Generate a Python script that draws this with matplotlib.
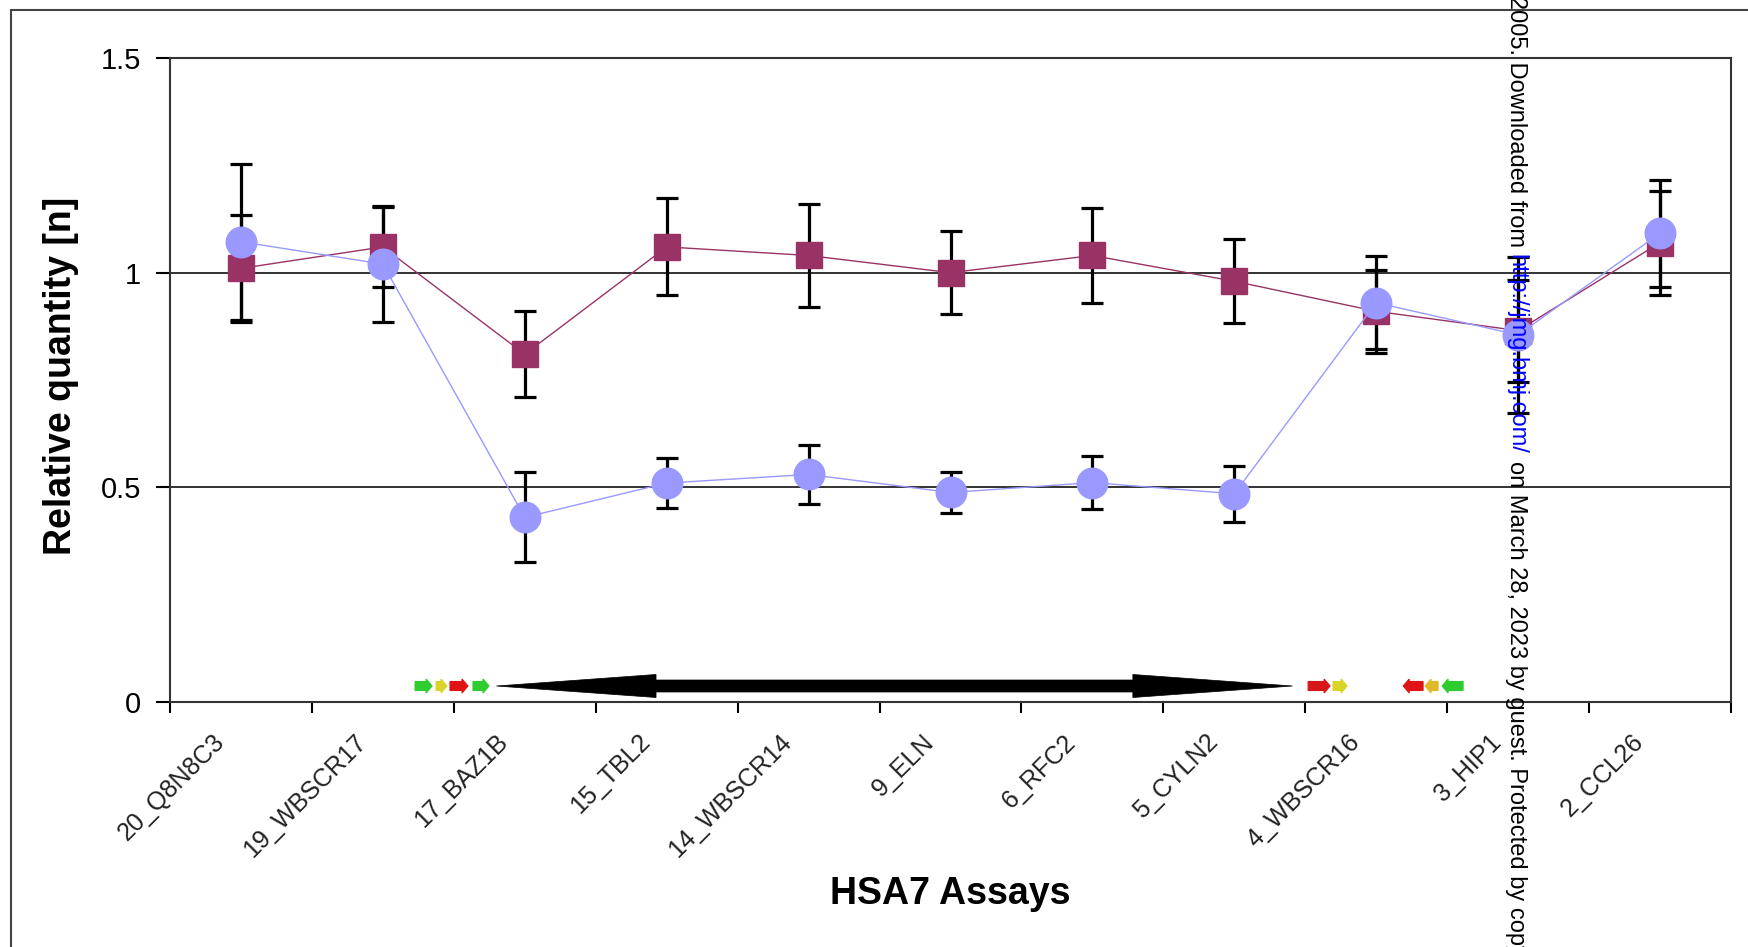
import matplotlib
matplotlib.use('Agg')
import matplotlib.pyplot as plt
import numpy as np
from matplotlib.patches import Polygon, Rectangle
from matplotlib.transforms import ScaledTranslation

plt.rcParams['font.family'] = ['Liberation Sans', 'DejaVu Sans']

# data
assays = ['20_Q8N8C3', '19_WBSCR17', '17_BAZ1B', '15_TBL2', '14_WBSCR14', '9_ELN',
          '6_RFC2', '5_CYLN2', '4_WBSCR16', '3_HIP1', '2_CCL26']
# control (maroon squares)
ctrl = [1.01, 1.06, 0.81, 1.06, 1.04, 1.00, 1.04, 0.98, 0.91, 0.865, 1.07]
ctrl_err = [0.125, 0.093, 0.10, 0.113, 0.12, 0.096, 0.11, 0.098, 0.096, 0.119, 0.121]
# patient (blue circles)
pat = [1.072, 1.02, 0.43, 0.51, 0.53, 0.488, 0.511, 0.485, 0.93, 0.855, 1.092]
pat_err = [0.182, 0.136, 0.105, 0.058, 0.068, 0.048, 0.062, 0.065, 0.108, 0.182, 0.125]

# deleted region (double arrow) and flanking genes, in category units
del_span = [1.80, 7.41]
gene_x0 = [1.227, 1.375, 1.473, 1.635, 7.52, 7.696, 8.19, 8.344, 8.464]
gene_x1 = [1.347, 1.452, 1.600, 1.748, 7.675, 7.795, 8.33, 8.436, 8.612]
gene_right = [True, True, True, True, True, True, False, False, False]
gene_col = ['#2ecc2e', '#d8d428', '#e01414', '#2ecc2e', '#d81818', '#d8d428',
            '#e01414', '#e0b828', '#2ecc2e']

W, H = 1748, 947
fig = plt.figure(figsize=(W / 100, H / 100), dpi=100)
ax = fig.add_axes([170 / W, 1 - 702 / H, 1561 / W, 644 / H])

x = np.arange(len(assays))
for v in [0.5, 1.0]:
    ax.axhline(v, color='#111111', lw=1.2, zorder=1)

ax.errorbar(x, ctrl, yerr=ctrl_err, fmt='none', ecolor='black', elinewidth=2.3,
            capsize=8, capthick=2.3, zorder=3)
ax.errorbar(x, pat, yerr=pat_err, fmt='none', ecolor='black', elinewidth=2.3,
            capsize=8, capthick=2.3, zorder=3)
ax.plot(x, ctrl, color='#993366', lw=1, marker='s', ms=18.5, zorder=4)
ax.plot(x, pat, color='#9999ff', lw=1, marker='o', ms=22, zorder=5)

ax.set_xlim(-0.5, 10.5)
ax.set_ylim(0, 1.5)

# px -> data units
ux = 11 / 1561
uy = 1.5 / 644
ya = 16 * uy

# big double-headed arrow
hl = 1.125
sh, hh = 6 * uy, 11.5 * uy
a, b = del_span
pts = [(a, ya), (a + hl, ya + hh), (a + hl, ya + sh), (b - hl, ya + sh), (b - hl, ya + hh),
       (b, ya), (b - hl, ya - hh), (b - hl, ya - sh), (a + hl, ya - sh), (a + hl, ya - hh)]
ax.add_patch(Polygon(pts, closed=True, fc='black', ec='black', lw=0.5, zorder=6))

# small gene arrows
bh, gh, gl = 4.5 * uy, 7 * uy, 6 * ux
for x0, x1, r, c in zip(gene_x0, gene_x1, gene_right, gene_col):
    if r:
        p = [(x0, ya - bh), (x1 - gl, ya - bh), (x1 - gl, ya - gh), (x1, ya),
             (x1 - gl, ya + gh), (x1 - gl, ya + bh), (x0, ya + bh)]
    else:
        p = [(x1, ya - bh), (x0 + gl, ya - bh), (x0 + gl, ya - gh), (x0, ya),
             (x0 + gl, ya + gh), (x0 + gl, ya + bh), (x1, ya + bh)]
    ax.add_patch(Polygon(p, closed=True, fc=c, ec=c, lw=0.8, zorder=6))

# ticks
ax.set_xticks(np.arange(-0.5, 11, 1))
ax.set_xticklabels([])
ax.set_xticks(x, minor=True)
ax.set_xticklabels(assays, minor=True, rotation=45, ha='right', va='top',
                   fontsize=18, color='#222222')
ax.tick_params(axis='x', which='minor', length=0, pad=20)
ax.tick_params(axis='x', which='major', length=8, width=1.5, direction='out')
off = ScaledTranslation(-0.12, 0, fig.dpi_scale_trans)
for lab in ax.get_xticklabels(minor=True):
    lab.set_transform(lab.get_transform() + off)

ax.set_yticks([0, 0.5, 1, 1.5])
ax.set_yticklabels(['0', '0.5', '1', '1.5'], fontsize=21)
ax.tick_params(axis='y', length=10, width=1.5, pad=11)

for s in ax.spines.values():
    s.set_linewidth(1.5)
    s.set_color('#333333')

ax.set_ylabel('Relative quantity [n]', fontsize=27, fontweight='bold')
ax.yaxis.set_label_coords(-0.0698, 0.506)
ax.yaxis.label.set_va('center')
ax.set_xlabel('HSA7 Assays', fontsize=27, fontweight='bold')
ax.xaxis.set_label_coords(0.5, -0.298)
ax.xaxis.label.set_va('center')

# outer frame
fig.add_artist(Rectangle((11 / W, -0.05), 1.1, 1 - 10 / H + 0.05, transform=fig.transFigure,
                         fill=False, ec='#444444', lw=1.5))

# watermark down the right side
fig.canvas.draw()
rend = fig.canvas.get_renderer()
pieces = [('2005. Downloaded from', 'black'), ('http://jmg.bmj.com/', '#0000ff'),
          ('on March 28, 2023 by guest. Protected by copyright.', 'black')]
ypx = H + 4
for s, c in pieces:
    t = fig.text(1516 / W, ypx / H, s, rotation=-90, rotation_mode='anchor',
                 ha='left', va='center', fontsize=17, color=c, zorder=10)
    bb = t.get_window_extent(rend)
    ypx -= bb.height + 7

fig.savefig('out.png', dpi=100)
